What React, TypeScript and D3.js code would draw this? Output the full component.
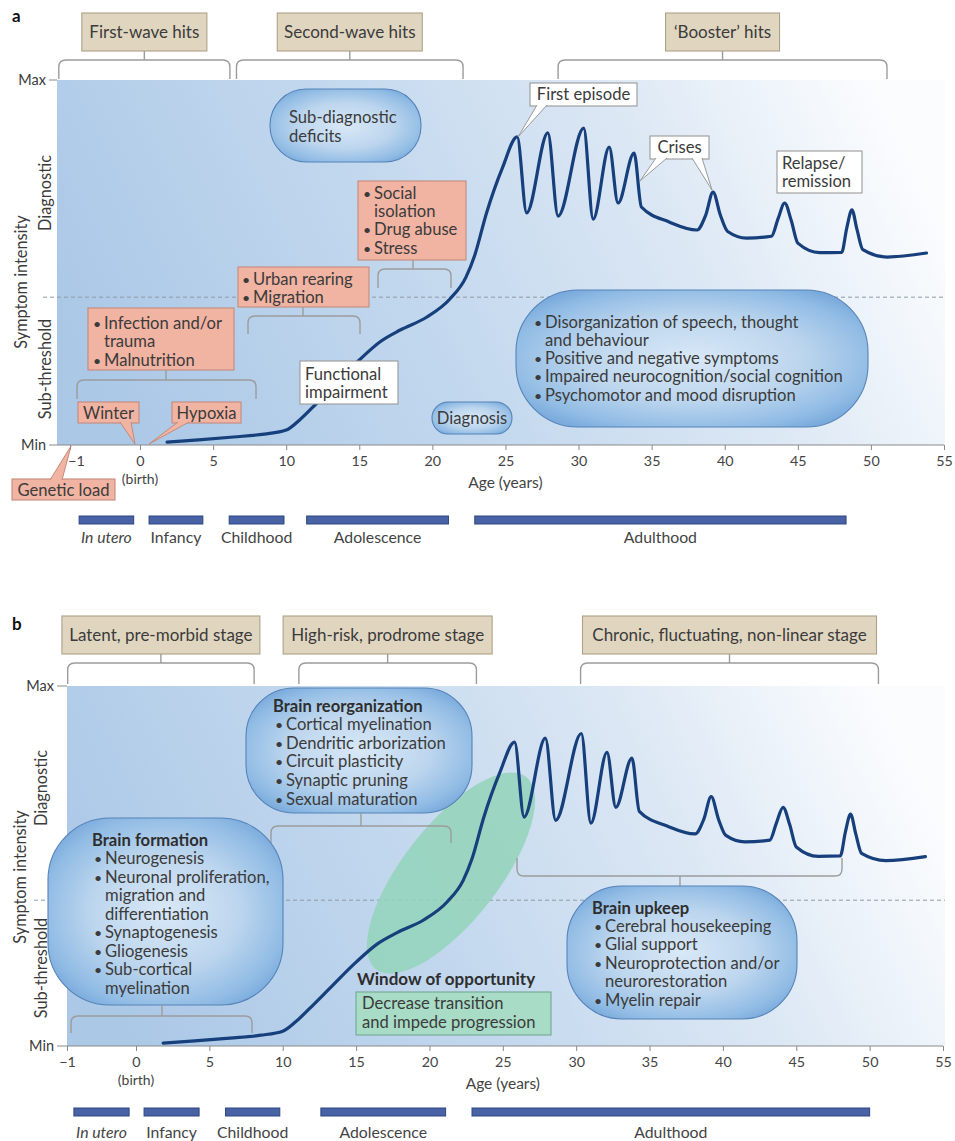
import { useEffect, useRef } from 'react'
import * as d3 from 'd3'

const W = 955
const H = 1141
const FONT = "Lato, 'Open Sans', 'Noto Sans', sans-serif"
const INK = '#3b3b3b'
const FS = 16.6 // body text size in the call-out boxes

// x axis ticks (the -1..0 stretch is drawn wider than the rest)
const ageTicks = [-1, 0, 5, 10, 15, 20, 25, 30, 35, 40, 45, 50, 55]

// symptom intensity by age, 0 = Min, 1 = Max
const trajectory: [number, number][] = [
  [1.85, 0.008], [4, 0.014], [6.4, 0.022], [8.5, 0.03], [10, 0.041], [10.9, 0.068], [12.1, 0.115], [13.2, 0.16],
  [15, 0.233], [16.5, 0.285], [17.8, 0.315], [19.6, 0.35], [21.2, 0.4], [22.3, 0.46], [22.9, 0.52], [23.7, 0.635],
  [24.8, 0.76], [25.8, 0.844], [26.45, 0.636], [27.9, 0.855], [28.6, 0.627], [30.35, 0.868], [31.0, 0.619],
  [32.1, 0.816], [32.7, 0.663], [33.8, 0.8], [34.3, 0.652], [36.2, 0.611], [38.1, 0.589],
  [38.7, 0.63], [39.2, 0.693], [39.7, 0.63], [40.2, 0.585], [41.5, 0.567], [43.2, 0.572],
  [43.65, 0.62], [44.1, 0.663], [44.55, 0.615], [45.0, 0.553], [46.5, 0.527], [48.0, 0.528],
  [48.35, 0.595], [48.7, 0.644], [49.05, 0.59], [49.45, 0.535], [51.1, 0.515], [53.8, 0.526],
]
const threshold = 0.405

const stageNames = ['In utero', 'Infancy', 'Childhood', 'Adolescence', 'Adulthood']
const stageSpansA: [number, number][] = [[-0.87, -0.09], [0.62, 4.3], [6.1, 9.85], [11.4, 21.1], [22.9, 48.3]]
const stageSpansB: [number, number][] = [[-0.9, -0.1], [0.55, 4.3], [6.1, 9.8], [12.6, 21.1], [22.9, 50.0]]

const phasesA = ['First-wave hits', 'Second-wave hits', '\u2018Booster\u2019 hits']
const phaseSpansA: [number, number][] = [[-1.16, 6.15], [6.6, 22.1], [28.6, 51.1]]
const phaseWidthsA = [125, 145, 114]
const phasesB = ['Latent, pre-morbid stage', 'High-risk, prodrome stage', 'Chronic, fluctuating, non-linear stage']
const phaseSpansB: [number, number][] = [[-0.99, 8.05], [11.1, 23.2], [30.3, 50.6]]
const phaseWidthsB = [198, 209, 294]

const PINK = ['#f1b3a2', '#c48a7b']
const WHITE = ['#ffffff', '#9a9a9a']
const PILL = ['url(#pill)', '#5583b8']
const GREEN = ['#a8dcc6', '#72a892']

type Sel = any
type Cfg = {
  letter: string; letterY: number
  xr: [number, number, number]; yr: [number, number]
  plotX0: number; plotX1: number; tickX0: number; thrX0: number; minusDx: number
  phases: string[]; phaseSpans: [number, number][]; phaseWidths: number[]
  phaseBox: [number, number]; phaseBr: [number, number]
  stageSpans: [number, number][]; stageY: number; stageLabelY: number
  yLabX: [number, number]; yLabY: [number, number, number]
}

const cfgA: Cfg = {
  letter: 'a', letterY: 22, xr: [70, 140, 944], yr: [445, 80], plotX0: 57, plotX1: 945, tickX0: 49, thrX0: 43, minusDx: 6,
  phases: phasesA, phaseSpans: phaseSpansA, phaseWidths: phaseWidthsA, phaseBox: [13, 51], phaseBr: [60, 79],
  stageSpans: stageSpansA, stageY: 520, stageLabelY: 543, yLabX: [27, 51], yLabY: [282, 193, 369],
}
const cfgB: Cfg = {
  letter: 'b', letterY: 630, xr: [67, 136, 943], yr: [1046, 686], plotX0: 67, plotX1: 945, tickX0: 57, thrX0: 34, minusDx: 0,
  phases: phasesB, phaseSpans: phaseSpansB, phaseWidths: phaseWidthsB, phaseBox: [616, 654], phaseBr: [663, 684],
  stageSpans: stageSpansB, stageY: 1112, stageLabelY: 1138, yLabX: [26, 47], yLabY: [877, 788, 968],
}

function txt(g: Sel, x: number, y: number, s: string, size = FS, anchor = 'start') {
  return g.append('text').attr('x', x).attr('y', y).attr('font-size', size).attr('font-family', FONT)
    .attr('fill', INK).attr('text-anchor', anchor).text(s)
}

function lines(g: Sel, rows: string[], x: number, y: number, lh: number, size = FS) {
  rows.forEach((raw, i) => {
    const yy = y + i * lh
    if (raw.startsWith('#')) {
      txt(g, x - 2, yy, raw.slice(1), size).attr('font-weight', 700).attr('fill', '#2e2e2e')
    } else if (raw.startsWith('\u2022 ')) {
      txt(g, x, yy, '\u2022', size * 0.85)
      txt(g, x + 11, yy, raw.slice(2), size)
    } else if (raw.startsWith('  ')) {
      txt(g, x + 11, yy, raw.slice(2), size)
    } else {
      txt(g, x, yy, raw, size)
    }
  })
}

function box(g: Sel, x: number, y: number, w: number, h: number, c: string[], rx = 0) {
  return g.append('rect').attr('x', x).attr('y', y).attr('width', w).attr('height', h).attr('rx', rx)
    .attr('fill', c[0]).attr('stroke', c[1]).attr('stroke-width', 1.1)
}

function tail(g: Sel, p1: number[], p2: number[], tip: number[], c: string[]) {
  g.append('path').attr('d', `M${p1[0]},${p1[1]}L${tip[0]},${tip[1]}L${p2[0]},${p2[1]}`)
    .attr('fill', c[0]).attr('stroke', c[1]).attr('stroke-width', 1)
}

function bracket(g: Sel, x1: number, x2: number, yFlat: number, yEnd: number) {
  const s = yEnd > yFlat ? 1 : -1
  const r = 7
  g.append('path')
    .attr('d', `M${x1},${yEnd}L${x1},${yFlat + s * r}Q${x1},${yFlat} ${x1 + r},${yFlat}L${x2 - r},${yFlat}Q${x2},${yFlat} ${x2},${yFlat + s * r}L${x2},${yEnd}`)
    .attr('fill', 'none').attr('stroke', '#9c9c9c').attr('stroke-width', 1.4)
}

function stem(g: Sel, x: number, y1: number, y2: number) {
  g.append('line').attr('x1', x).attr('x2', x).attr('y1', y1).attr('y2', y2).attr('stroke', '#9c9c9c').attr('stroke-width', 1.4)
}

function drawPanel(svg: Sel, c: Cfg, under?: (g: Sel) => void) {
  const x = d3.scaleLinear().domain([-1, 0, 55]).range(c.xr)
  const y = d3.scaleLinear().domain([0, 1]).range(c.yr)
  const g = svg.append('g')

  txt(g, 12, c.letterY, c.letter, 17).attr('font-weight', 700).attr('fill', '#111')

  // plot field
  g.append('rect').attr('x', c.plotX0).attr('y', y(1)).attr('width', c.plotX1 - c.plotX0)
    .attr('height', y(0) - y(1)).attr('fill', 'url(#plotBg)')
  g.append('line').attr('x1', c.thrX0).attr('x2', c.plotX1).attr('y1', y(threshold)).attr('y2', y(threshold))
    .attr('stroke', '#8f9aa6').attr('stroke-width', 1).attr('stroke-dasharray', '4,3')

  if (under) under(g)

  // trajectory
  const line = d3.line<[number, number]>().x((d) => x(d[0])).y((d) => y(d[1])).curve(d3.curveMonotoneX)
  g.append('path').datum(trajectory).attr('d', line as any).attr('fill', 'none')
    .attr('stroke', '#163f7c').attr('stroke-width', 3.2).attr('stroke-linecap', 'round')

  // y axis
  g.append('line').attr('x1', c.tickX0).attr('x2', c.plotX0).attr('y1', y(1)).attr('y2', y(1)).attr('stroke', '#8a8a8a')
  txt(g, c.tickX0 - 3, y(1) + 5, 'Max', 14.5, 'end')
  txt(g, c.tickX0 - 3, y(0) + 5, 'Min', 14.5, 'end')
  const rot = (px: number, py: number, s: string) =>
    txt(g, 0, 0, s, 16.3, 'middle').attr('transform', `translate(${px},${py}) rotate(-90)`)
  rot(c.yLabX[0], c.yLabY[0], 'Symptom intensity')
  rot(c.yLabX[1], c.yLabY[1], 'Diagnostic')
  rot(c.yLabX[1], c.yLabY[2], 'Sub-threshold')

  // x axis
  g.append('line').attr('x1', c.tickX0).attr('x2', x(55)).attr('y1', y(0)).attr('y2', y(0))
    .attr('stroke', '#8a8a8a').attr('stroke-width', 1.2)
  const axis = d3.axisBottom(x).tickValues(ageTicks).tickSize(5).tickSizeOuter(0).tickPadding(6)
    .tickFormat((d: any) => (d === -1 ? '\u22121' : String(d)))
  const ax = g.append('g').attr('transform', `translate(0,${y(0)})`).call(axis as any)
  ax.select('.domain').remove()
  ax.selectAll('.tick line').attr('stroke', '#8a8a8a')
  ax.selectAll('.tick text').attr('fill', '#444').attr('font-size', 14.3).attr('font-family', FONT)
    .attr('dx', (d: any) => (d === -1 ? c.minusDx : 0))
  txt(g, x(0), y(0) + 38.5, '(birth)', 14, 'middle').attr('fill', '#444')
  txt(g, x(25), y(0) + 43, 'Age (years)', 15.5, 'middle').attr('fill', '#444')

  // life stages
  c.stageSpans.forEach(([a, b], i) => {
    g.append('rect').attr('x', x(a)).attr('y', c.stageY - 4).attr('width', x(b) - x(a)).attr('height', 8)
      .attr('fill', '#4862a3').attr('stroke', '#2c4784').attr('stroke-width', 1)
    const t = txt(g, (x(a) + x(b)) / 2, c.stageLabelY, stageNames[i], 15.8, 'middle').attr('fill', '#444')
    if (i === 0) t.attr('font-style', 'italic')
  })

  // phase boxes and brackets
  c.phases.forEach((p, i) => {
    const [a, b] = c.phaseSpans[i]
    const cx = (x(a) + x(b)) / 2
    const w = c.phaseWidths[i]
    box(g, cx - w / 2, c.phaseBox[0], w, c.phaseBox[1] - c.phaseBox[0], ['#e0d6c0', '#ada187'])
    txt(g, cx, (c.phaseBox[0] + c.phaseBox[1]) / 2 + 5.5, p, 17, 'middle')
    stem(g, cx, c.phaseBox[1], c.phaseBr[0])
    bracket(g, x(a), x(b), c.phaseBr[0], c.phaseBr[1])
  })

  return svg.append('g')
}

function annotateA(g: Sel) {
  // second-wave hits
  box(g, 358, 181, 108, 79, PINK)
  lines(g, ['\u2022 Social', '  isolation', '\u2022 Drug abuse', '\u2022 Stress'], 363, 198.5, 18.4)
  stem(g, 413, 260, 269); bracket(g, 378, 451, 269, 288)
  box(g, 238, 267, 131, 40, PINK)
  lines(g, ['\u2022 Urban rearing', '\u2022 Migration'], 242, 284.5, 18.5)
  stem(g, 303, 307, 316); bracket(g, 248, 360, 316, 334)
  // first-wave hits
  box(g, 88, 308, 146, 62, PINK)
  lines(g, ['\u2022 Infection and/or', '  trauma', '\u2022 Malnutrition'], 93, 328.5, 18.5)
  stem(g, 166, 370, 380); bracket(g, 77, 256, 380, 399)
  box(g, 78, 402, 61, 21, PINK); tail(g, [120, 422], [131, 422], [135, 444], PINK)
  txt(g, 108.5, 418.5, 'Winter', FS, 'middle')
  box(g, 172, 402, 69, 21, PINK); tail(g, [178, 422], [189, 422], [149, 444], PINK)
  txt(g, 206.5, 418.5, 'Hypoxia', FS, 'middle')
  box(g, 12, 479, 103, 21, PINK); tail(g, [50, 480], [62, 480], [71, 446], PINK)
  txt(g, 63.5, 495.5, 'Genetic load', FS, 'middle')

  box(g, 270, 89, 151, 73, PILL, 36)
  lines(g, ['Sub-diagnostic', 'deficits'], 289, 122.5, 19)
  box(g, 300, 361, 98, 43, WHITE)
  lines(g, ['Functional', 'impairment'], 305, 379.5, 18.5)
  box(g, 432, 402, 80, 32, PILL, 16)
  txt(g, 472, 423.5, 'Diagnosis', FS, 'middle')

  box(g, 530, 83, 107, 23, WHITE); tail(g, [537, 105], [547, 105], [518, 137], WHITE)
  txt(g, 583.5, 100, 'First episode', FS, 'middle')
  box(g, 650, 136, 59, 23, WHITE)
  tail(g, [656, 158], [667, 158], [640, 181], WHITE)
  tail(g, [692, 158], [702, 158], [712, 190], WHITE)
  txt(g, 679.5, 153, 'Crises', FS, 'middle')
  box(g, 777, 151, 85, 42, WHITE)
  lines(g, ['Relapse/', 'remission'], 782, 168.5, 18.5)

  box(g, 516, 290, 352, 137, PILL, 62)
  lines(g, [
    '\u2022 Disorganization of speech, thought', '  and behaviour', '\u2022 Positive and negative symptoms',
    '\u2022 Impaired neurocognition/social cognition', '\u2022 Psychomotor and mood disruption',
  ], 534, 327.5, 18.3)
}

function annotateB(g: Sel) {
  box(g, 246, 688, 226, 125, PILL, 48)
  lines(g, ['#Brain reorganization', '\u2022 Cortical myelination', '\u2022 Dendritic arborization',
    '\u2022 Circuit plasticity', '\u2022 Synaptic pruning', '\u2022 Sexual maturation'], 275, 711.5, 18.6)
  stem(g, 361, 813, 826); bracket(g, 271, 451, 826, 843)

  box(g, 48, 818, 235, 187, PILL, 62)
  lines(g, ['#Brain formation', '\u2022 Neurogenesis', '\u2022 Neuronal proliferation,', '  migration and',
    '  differentiation', '\u2022 Synaptogenesis', '\u2022 Gliogenesis', '\u2022 Sub-cortical', '  myelination'], 94, 845.5, 18.5)
  stem(g, 162, 1005, 1016); bracket(g, 71, 252, 1016, 1033)

  bracket(g, 517, 842, 876, 858); stem(g, 680, 876, 886)
  box(g, 567, 886, 230, 133, PILL, 55)
  lines(g, ['#Brain upkeep', '\u2022 Cerebral housekeeping', '\u2022 Glial support', '\u2022 Neuroprotection and/or',
    '  neurorestoration', '\u2022 Myelin repair'], 594, 913.5, 18.4)

  txt(g, 357, 984.5, 'Window of opportunity', 17).attr('font-weight', 700).attr('fill', '#2e2e2e')
  box(g, 356, 992, 195, 43, GREEN)
  lines(g, ['Decrease transition', 'and impede progression'], 362, 1008.5, 19)
}

export default function App() {
  const ref = useRef<SVGSVGElement | null>(null)
  useEffect(() => {
    const svg = d3.select(ref.current)
    svg.selectAll('*').remove()
    const defs = svg.append('defs')
    const bg = defs.append('linearGradient').attr('id', 'plotBg').attr('x1', 0).attr('y1', 0.6).attr('x2', 1).attr('y2', 0.4)
    ;[[0, '#abc8e7'], [0.4, '#c3d8ee'], [0.7, '#dbe7f4'], [0.93, '#f4f8fc'], [1, '#fbfcfe']].forEach(([o, col]) =>
      bg.append('stop').attr('offset', o).attr('stop-color', col))
    const pill = defs.append('radialGradient').attr('id', 'pill').attr('cx', 0.5).attr('cy', 0.5).attr('r', 0.62)
    ;[[0, '#d8e8f7'], [0.5, '#bdd6ee'], [0.82, '#93bde5'], [1, '#74a6da']].forEach(([o, col]) =>
      pill.append('stop').attr('offset', o).attr('stop-color', col))

    svg.append('rect').attr('width', W).attr('height', H).attr('fill', '#fff')

    annotateA(drawPanel(svg, cfgA))
    annotateB(drawPanel(svg, cfgB, (g) => {
      g.append('ellipse').attr('cx', 451).attr('cy', 873).attr('rx', 122).attr('ry', 48)
        .attr('transform', 'rotate(-52 451 873)').attr('fill', '#93d3ba').attr('opacity', 0.85)
    }))
  }, [])
  return <svg ref={ref} width={W} height={H} style={{ position: 'absolute', left: 0, top: 0 }} />
}
